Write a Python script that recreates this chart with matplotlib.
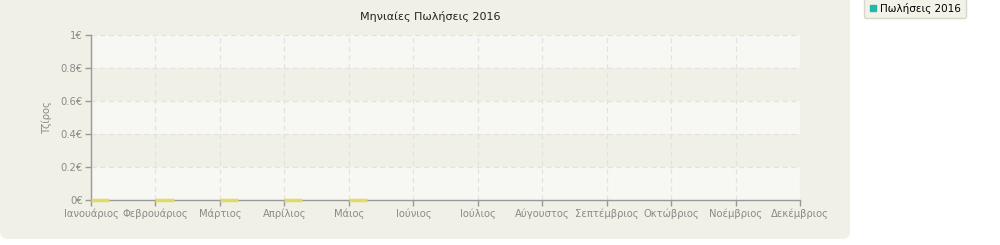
import matplotlib
matplotlib.use("Agg")
import matplotlib.pyplot as plt
from matplotlib.patches import FancyBboxPatch
from matplotlib.lines import Line2D
from matplotlib.ticker import FuncFormatter, FixedLocator

months = ["Ιανουάριος", "Φεβρουάριος", "Μάρτιος", "Απρίλιος", "Μάιος", "Ιούνιος",
          "Ιούλιος", "Αύγουστος", "Σεπτέμβριος", "Οκτώβριος", "Νοέμβριος", "Δεκέμβριος"]
sales_months = ["Ιανουάριος", "Φεβρουάριος", "Μάρτιος", "Απρίλιος", "Μάιος"]
sales_values = [0, 0, 0, 0, 0]
y_ticks = [0, 0.2, 0.4, 0.6, 0.8, 1.0]
series_name = "Πωλήσεις 2016"
title = "Μηνιαίες Πωλήσεις 2016"
y_label = "Τζίρος"

plt.rcParams['font.family'] = ['DejaVu Sans']

fig = plt.figure(figsize=(10, 2.45), dpi=100)
fig.patch.set_facecolor("white")

# outer panel
panel = FancyBboxPatch((0.0, 6 / 245), 850 / 1000, 1.1, boxstyle="round,pad=0,rounding_size=0.008",
                       transform=fig.transFigure, facecolor="#f1f0e6", edgecolor="none", zorder=-10,
                       mutation_aspect=4.08)
fig.patches.append(panel)

ax = fig.add_axes([0.091, 1 - 200 / 245, 0.709, (200 - 35) / 245])
ax.set_facecolor("none")
ax.set_zorder(1)

# bands
for i in range(len(y_ticks) - 1):
    col = "#f7f7f3" if i % 2 == 0 else "#f1f0e6"
    ax.axhspan(y_ticks[i], y_ticks[i + 1], facecolor=col, edgecolor="none", zorder=0)

x_idx = {m: i for i, m in enumerate(months)}
xs = [x_idx[m] for m in sales_months]
ax.bar(xs, sales_values, width=0.28, align="edge", color="#f4ee7a",
       edgecolor="#e2da66", linewidth=2.5, zorder=3, clip_on=False)

ax.set_xlim(0, len(months) - 1)
ax.set_ylim(y_ticks[0], y_ticks[-1])
ax.xaxis.set_major_locator(FixedLocator(range(len(months))))
ax.set_xticklabels(months)
ax.yaxis.set_major_locator(FixedLocator(y_ticks))
ax.yaxis.set_major_formatter(FuncFormatter(lambda v, p: ("%g" % round(v, 2)) + "€"))

ax.grid(True, color="#e2e2e2", linestyle=(0, (4, 3)), linewidth=0.9, zorder=1)
ax.set_axisbelow(True)
for s in ["top", "right"]:
    ax.spines[s].set_visible(False)
for s in ["left", "bottom"]:
    ax.spines[s].set_color("#999999")
    ax.spines[s].set_linewidth(1.0)
ax.tick_params(axis="both", colors="#999999", labelcolor="#8a8a8a", labelsize=7.2,
               length=4, width=1, pad=2)

ax.set_ylabel(y_label, color="#8a8a8a", fontsize=7.2, labelpad=6)
fig.text(0.43, 1 - 17 / 245, title, ha="center", va="center", fontsize=8, color="#222222")

handle = Line2D([], [], marker="s", linestyle="none", color="#24b5ad", markersize=4.5)
leg = fig.legend([handle], [series_name], loc="upper left", bbox_to_anchor=(0.859, 1.03),
                 frameon=True, fontsize=7.5, handletextpad=0.3, borderpad=0.45,
                 handlelength=0.8, fancybox=True)
leg.get_frame().set_facecolor("#f3f2e8")
leg.get_frame().set_edgecolor("#d6d6ca")
leg.get_frame().set_alpha(1)

fig.savefig("out.png", dpi=100, facecolor="white")
